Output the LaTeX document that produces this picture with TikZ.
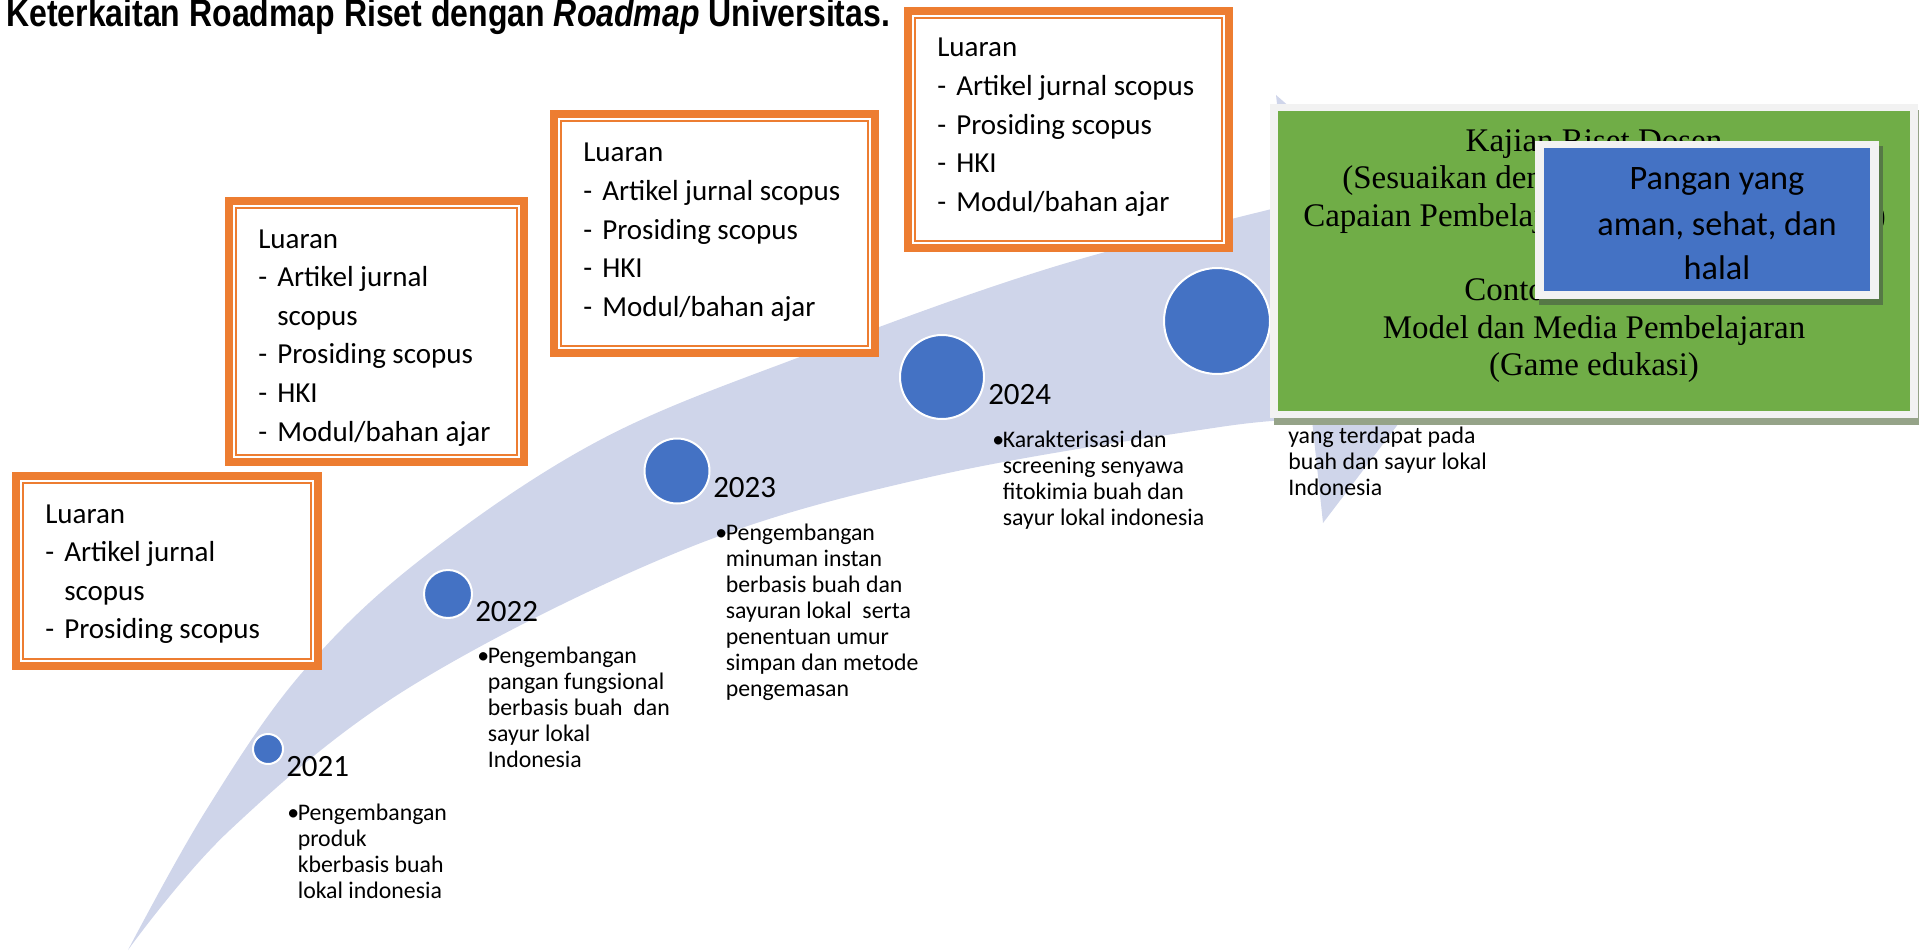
\documentclass[tikz,border=0pt]{standalone}
\usepackage{fontspec}
\setmainfont{Carlito}
\newfontfamily\ttlfont{Liberation Sans}
\newfontfamily\grnfont{Liberation Serif}
\usetikzlibrary{calc}
\definecolor{bandc}{HTML}{CFD5EA}
\definecolor{oranc}{HTML}{ED7D31}
\definecolor{bluec}{HTML}{4472C4}
\definecolor{greenc}{HTML}{70AD47}
\definecolor{framec}{HTML}{F2F2F2}
\definecolor{gshad}{HTML}{95A388}
\definecolor{bshad}{HTML}{567846}
\newcommand\orbox[4]{%
 \fill[oranc] (#1,#2) rectangle (#3,#4);
 \fill[white] (#1+8.3,#2+8.3) rectangle (#3-8.3,#4-8.3);
 \draw[oranc,line width=1.2pt] (#1+11,#2+11) rectangle (#3-11,#4-11);}
\newcommand\mydash{\makebox[14.25pt][l]{-}}
\newcommand\myind{\hspace*{14.25pt}}
\newcommand\mybul{\makebox[7.9pt][l]{•}}
\newcommand\mybind{\hspace*{7.9pt}}
\begin{document}
\begin{tikzpicture}[x=0.75pt,y=-0.75pt,
 lut/.style={anchor=base west, inner sep=0, font=\fontsize{21.75}{28.95}\selectfont},
 yrt/.style={anchor=base west, inner sep=0, font=\fontsize{23.25}{28}\selectfont},
 bult/.style={anchor=base west, inner sep=0, font=\fontsize{17.85}{19.5}\selectfont},
 dot/.style={circle, fill=bluec, draw=white, line width=1.5pt, inner sep=0},
 grt/.style={inner sep=0, font=\grnfont\fontsize{24.75}{28}\selectfont},
 blt/.style={anchor=base, inner sep=0, font=\fontsize{25.7}{33.75}\selectfont}]
\useasboundingbox (0,0) rectangle (1919,952);

% curved band with arrow head
\fill[bandc] plot[smooth, tension=0.6] coordinates {(128,950) (205,812) (300,675) (420,560) (600,440) (813,352) (1050,268) (1288,205)}
  -- (1276,95) -- (1500,290) -- (1323,523) -- (1312,420)
  -- plot[smooth, tension=0.6] coordinates {(1312,420) (1220,427) (930,477) (683,550) (410,687) (230,830) (128,950)} -- cycle;

% title
\node[anchor=base west, inner sep=0, font=\ttlfont\bfseries\fontsize{24}{28}\selectfont] (title) at (6,27)
  {\scalebox{1}[1.2]{Keterkaitan Roadmap Riset dengan \textit{Roadmap} Universitas.}};

% orange output boxes
\orbox{12}{472}{322}{670}
\orbox{225}{197}{528}{466}
\orbox{550}{110}{879}{357}
\orbox{904}{7}{1233}{252}

\node[lut] (lu1) at (45,523) {\begin{tabular}[t]{@{}l@{}}Luaran\\\mydash Artikel jurnal\\\myind scopus\\\mydash Prosiding scopus\end{tabular}};
\node[lut] (lu2) at (258,248) {\begin{tabular}[t]{@{}l@{}}Luaran\\\mydash Artikel jurnal\\\myind scopus\\\mydash Prosiding scopus\\\mydash HKI\\\mydash Modul/bahan ajar\end{tabular}};
\node[lut] (lu3) at (583,162) {\begin{tabular}[t]{@{}l@{}}Luaran\\\mydash Artikel jurnal scopus\\\mydash Prosiding scopus\\\mydash HKI\\\mydash Modul/bahan ajar\end{tabular}};
\node[lut] (lu4) at (937,57) {\begin{tabular}[t]{@{}l@{}}Luaran\\\mydash Artikel jurnal scopus\\\mydash Prosiding scopus\\\mydash HKI\\\mydash Modul/bahan ajar\end{tabular}};

% timeline circles
\node[dot, minimum size=22.5pt] (c1) at (268,749) {};
\node[dot, minimum size=36pt] (c2) at (448,594) {};
\node[dot, minimum size=48.75pt] (c3) at (677,471) {};
\node[dot, minimum size=63pt] (c4) at (942,377) {};
\node[dot, minimum size=79.5pt] (c5) at (1217,321) {};

% years
\node[yrt] (y1) at (286,776) {2021};
\node[yrt] (y2) at (475,621) {2022};
\node[yrt] (y3) at (713,497) {2023};
\node[yrt] (y4) at (988,404) {2024};

% descriptions
\node[bult] (d1) at (287,820) {\begin{tabular}[t]{@{}l@{}}\mybul Pengembangan\\\mybind produk\\\mybind kberbasis buah\\\mybind lokal indonesia\end{tabular}};
\node[bult] (d2) at (477,663) {\begin{tabular}[t]{@{}l@{}}\mybul Pengembangan\\\mybind pangan fungsional\\\mybind berbasis buah\ \ dan\\\mybind sayur lokal\\\mybind Indonesia\end{tabular}};
\node[bult] (d3) at (715,540) {\begin{tabular}[t]{@{}l@{}}\mybul Pengembangan\\\mybind minuman instan\\\mybind berbasis buah dan\\\mybind sayuran lokal\ \ serta\\\mybind penentuan umur\\\mybind simpan dan metode\\\mybind pengemasan\end{tabular}};
\node[bult] (d4) at (992,447) {\begin{tabular}[t]{@{}l@{}}\mybul Karakterisasi dan\\\mybind screening senyawa\\\mybind fitokimia buah dan\\\mybind sayur lokal indonesia\end{tabular}};
\node[bult] (d5) at (1288,443) {\begin{tabular}[t]{@{}l@{}}yang terdapat pada\\buah dan sayur lokal\\Indonesia\end{tabular}};

% green box
\fill[gshad] (1274,110) rectangle (1925,425);
\fill[framec] (1270,104) rectangle (1918,418);
\fill[greenc] (1278,111) rectangle (1910,411);
\node[grt, anchor=base] (g1) at (1594,151.7) {Kajian Riset Dosen};
\node[grt, anchor=base west] (g2) at (1342,189) {(Sesuaikan dengan};
\node[grt, anchor=base west] (g3) at (1303,226.7) {Capaian Pembelajaran};
\node[grt, anchor=base east] (g3b) at (1886,226.7) {)};
\node[grt, anchor=base west] (g5) at (1464,300) {Contoh};
\node[grt, anchor=base] (g6) at (1594,338) {Model dan Media Pembelajaran};
\node[grt, anchor=base] (g7) at (1594,375) {(Game edukasi)};

% blue box
\fill[bshad] (1539,146) rectangle (1883,305);
\fill[framec] (1535,141) rectangle (1879,299);
\fill[bluec] (1544,148) rectangle (1870,291);
\node[blt] (b1) at (1717,190) {Pangan yang};
\node[blt] (b2) at (1717,236) {aman, sehat, dan};
\node[blt] (b3) at (1717,280) {halal};
\end{tikzpicture}
\end{document}
